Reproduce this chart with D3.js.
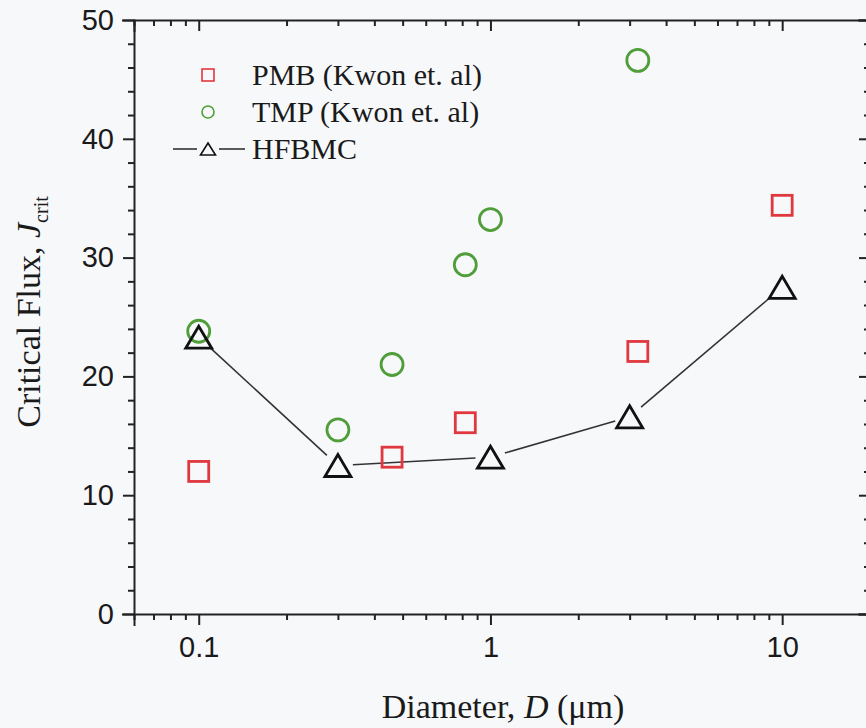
<!DOCTYPE html>
<html>
<head>
<meta charset="utf-8">
<script src="https://cdn.jsdelivr.net/npm/d3@7"></script>
<style>
  body { margin: 0; background: #f7f8fa; }
  svg { display: block; }
  .tick text { font-family: "Liberation Sans", Arial, sans-serif; font-size: 29px; fill: #1a1a1a; }
  .domain, .tick line { stroke: #222; stroke-width: 2px; }
  .serif { font-family: "Liberation Serif", "Times New Roman", serif; fill: #1a1a1a; }
</style>
</head>
<body>
<svg id="chart" width="866" height="728"></svg>
<script>
// values
var pmbD = [0.1, 0.46, 0.82, 3.2, 10];
var pmbJ = [12.0, 13.2, 16.1, 22.1, 34.4];
var tmpD = [0.1, 0.3, 0.46, 0.82, 1.0, 3.2];
var tmpJ = [23.8, 15.5, 21.0, 29.4, 33.2, 46.6];
var hfD = [0.1, 0.3, 1, 3, 10];
var hfJ = [23.3, 12.5, 13.2, 16.6, 27.5];
var yMajor = [0, 10, 20, 30, 40, 50];
var xMajor = [0.1, 1, 10];
var xTickLabels = ["0.1", "1", "10"];
var legendNames = ["PMB (Kwon et. al)", "TMP (Kwon et. al)", "HFBMC"];

var red = "#e0383f", green = "#4f9e3a", black = "#111";

var svg = d3.select("#chart");
var plotL = 134, plotR = 870, plotT = 20, plotB = 614;

var x = d3.scaleLog().domain([0.06, 20]).range([plotL, plotR]);
var y = d3.scaleLinear().domain([0, 50]).range([plotB, plotT]);

var yMinor = d3.range(0, 51, 2).filter(function(d) { return d % 10 != 0; });
var xMinor = x.ticks().filter(function(d) {
    return xMajor.indexOf(+d.toPrecision(3)) < 0;
});

// axes
function drawAxis(axis, tr) {
    var g = svg.append("g").attr("transform", tr).call(axis);
    return g;
}
drawAxis(d3.axisLeft(y).tickValues(yMajor).tickSize(11).tickPadding(9).tickFormat(d3.format("d")),
         "translate(" + plotL + ",0)");
drawAxis(d3.axisLeft(y).tickValues(yMinor).tickSize(6).tickFormat(""), "translate(" + plotL + ",0)")
  .select(".domain").remove();
drawAxis(d3.axisRight(y).tickValues(yMajor).tickSize(-11).tickFormat(""), "translate(" + plotR + ",0)");
drawAxis(d3.axisRight(y).tickValues(yMinor).tickSize(-6).tickFormat(""), "translate(" + plotR + ",0)")
  .select(".domain").remove();

drawAxis(d3.axisBottom(x).tickValues(xMajor).tickSize(11).tickPadding(11)
           .tickFormat(function(d, i) { return xTickLabels[i]; }),
         "translate(0," + plotB + ")");
drawAxis(d3.axisBottom(x).tickValues(xMinor).tickSize(6).tickFormat(""), "translate(0," + plotB + ")")
  .select(".domain").remove();
drawAxis(d3.axisTop(x).tickValues(xMajor).tickSize(-11).tickFormat(""), "translate(0," + plotT + ")");
drawAxis(d3.axisTop(x).tickValues(xMinor).tickSize(-6).tickFormat(""), "translate(0," + plotT + ")")
  .select(".domain").remove();
svg.selectAll(".domain").attr("stroke-linecap", "square");

// axis titles
var xt = svg.append("text").attr("class", "serif")
    .attr("x", 503).attr("y", 718)
    .attr("text-anchor", "middle")
    .style("font-size", "34px");
xt.append("tspan").text("Diameter, ");
xt.append("tspan").style("font-style", "italic").text("D");
xt.append("tspan").text(" (\u03bcm)");

var yt = svg.append("text").attr("class", "serif")
    .attr("transform", "translate(40,312) rotate(-90)")
    .attr("text-anchor", "middle")
    .style("font-size", "34px");
yt.append("tspan").text("Critical Flux, ");
yt.append("tspan").style("font-style", "italic").text("J");
yt.append("tspan").attr("dy", 8).style("font-size", "20px").text("crit");

// marker helpers
function trianglePath(cx, cy, w, h) {
    return "M" + cx + "," + (cy - h / 2) +
           "L" + (cx + w / 2) + "," + (cy + h / 2) +
           "L" + (cx - w / 2) + "," + (cy + h / 2) + "Z";
}

var pmb = pmbD.map(function(d, i) { return [d, pmbJ[i]]; });
var tmp = tmpD.map(function(d, i) { return [d, tmpJ[i]]; });
var hf = hfD.map(function(d, i) { return [d, hfJ[i]]; });

// HFBMC line, segments stopped short of the triangles
var gap = 15;
var segs = d3.pairs(hf).map(function(p) {
    var x0 = x(p[0][0]), y0 = y(p[0][1]), x1 = x(p[1][0]), y1 = y(p[1][1]);
    var len = Math.hypot(x1 - x0, y1 - y0), ux = (x1 - x0) / len, uy = (y1 - y0) / len;
    return [x0 + ux * gap, y0 + uy * gap, x1 - ux * gap, y1 - uy * gap];
});
svg.append("g").selectAll("line")
  .data(segs)
  .enter()
  .append("line")
    .attr("x1", function(d) { return d[0]; })
    .attr("y1", function(d) { return d[1]; })
    .attr("x2", function(d) { return d[2]; })
    .attr("y2", function(d) { return d[3]; })
    .attr("stroke", "#333")
    .attr("stroke-width", 1.6);

svg.append("g").selectAll("rect")
  .data(pmb)
  .enter()
  .append("rect")
    .attr("x", function(d) { return x(d[0]) - 10; })
    .attr("y", function(d) { return y(d[1]) - 10; })
    .attr("width", 20).attr("height", 20)
    .attr("fill", "none").attr("stroke", red).attr("stroke-width", 2.8);

svg.append("g").selectAll("circle")
  .data(tmp)
  .enter()
  .append("circle")
    .attr("cx", function(d) { return x(d[0]); })
    .attr("cy", function(d) { return y(d[1]); })
    .attr("r", 11)
    .attr("fill", "none").attr("stroke", green).attr("stroke-width", 2.8);

svg.append("g").selectAll("path")
  .data(hf)
  .enter()
  .append("path")
    .attr("d", function(d) { return trianglePath(x(d[0]), y(d[1]), 26, 22); })
    .attr("fill", "none").attr("stroke", black).attr("stroke-width", 2.8)
    .attr("stroke-linejoin", "miter");

// legend
var lg = svg.append("g");
var rowY = [75, 112, 149];
var mx = 208;
lg.append("rect").attr("x", mx - 6).attr("y", rowY[0] - 6).attr("width", 12).attr("height", 12)
  .attr("fill", "none").attr("stroke", red).attr("stroke-width", 1.6);
lg.append("circle").attr("cx", mx).attr("cy", rowY[1]).attr("r", 6)
  .attr("fill", "none").attr("stroke", green).attr("stroke-width", 1.6);
lg.append("path").attr("d", trianglePath(mx, rowY[2], 15, 12))
  .attr("fill", "none").attr("stroke", black).attr("stroke-width", 1.6);
lg.append("line").attr("x1", 173).attr("x2", 197).attr("y1", rowY[2]).attr("y2", rowY[2])
  .attr("stroke", "#333").attr("stroke-width", 1.6);
lg.append("line").attr("x1", 219).attr("x2", 245).attr("y1", rowY[2]).attr("y2", rowY[2])
  .attr("stroke", "#333").attr("stroke-width", 1.6);
lg.selectAll("text")
  .data(legendNames)
  .enter()
  .append("text")
    .attr("class", "serif")
    .attr("x", 252)
    .attr("y", function(d, i) { return rowY[i] + 10; })
    .style("font-size", "30px")
    .text(function(d) { return d; });
</script>
</body>
</html>
